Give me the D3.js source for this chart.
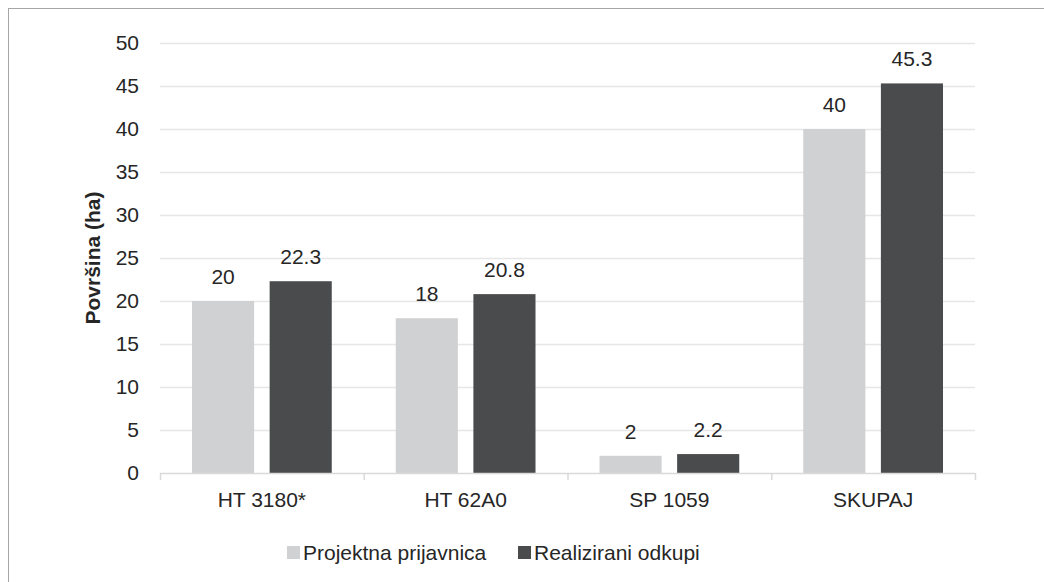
<!DOCTYPE html>
<html>
<head>
<meta charset="utf-8">
<script src="https://cdn.jsdelivr.net/npm/d3@7"></script>
<style>
  body { margin: 0; background: #fff; }
  text { font-family: 'Liberation Sans', Arial, sans-serif; fill: #262626; }
</style>
</head>
<body>
<div id="chart"></div>
<script>
const categories = ['HT 3180*', 'HT 62A0', 'SP 1059', 'SKUPAJ'];
const seriesNames = ['Projektna prijavnica', 'Realizirani odkupi'];
const projektna = [20, 18, 2, 40];
const realizirani = [22.3, 20.8, 2.2, 45.3];
const yTicks = [0, 5, 10, 15, 20, 25, 30, 35, 40, 45, 50];
const colors = ['#d0d1d3', '#4a4b4d'];

const W = 1044, H = 582;
const FS = '21px';
const margin = { top: 43, right: 69, bottom: 109, left: 160 };
const width = W - margin.left - margin.right,
  height = H - margin.top - margin.bottom;

const svg = d3.select('#chart').append('svg').attr('width', W).attr('height', H);

// outer frame
svg.append('rect')
  .attr('x', 8.5).attr('y', 8.5)
  .attr('width', W).attr('height', H)
  .attr('fill', 'none').attr('stroke', '#a6a6a6');

const g = svg.append('g').attr('transform', 'translate(' + margin.left + ',' + margin.top + ')');

const y = d3.scaleLinear().domain([0, 50]).range([height, 0]);
const x0 = d3.scaleBand().domain(categories).range([0, width]);
const x1 = d3.scaleBand().domain(seriesNames).range([32, x0.bandwidth() - 32]).paddingInner(0.2);

// gridlines
g.append('g')
  .selectAll('line')
  .data(yTicks.filter(d => d > 0))
  .enter()
  .append('line')
  .attr('x1', 0).attr('x2', width)
  .attr('y1', d => Math.round(y(d)) + 0.5).attr('y2', d => Math.round(y(d)) + 0.5)
  .attr('stroke', '#e6e6e6').attr('stroke-width', 1.5);

// y axis labels
g.append('g')
  .call(d3.axisLeft(y).tickValues(yTicks).tickSize(0).tickPadding(21))
  .call(a => a.select('.domain').remove())
  .selectAll('text')
  .style('font-size', FS)
  .style('font-family', "'Liberation Sans', Arial, sans-serif")
  .attr('fill', '#262626');

const data = categories.map((c, i) => ({ cat: c, vals: [projektna[i], realizirani[i]] }));

const groups = g.selectAll('.grp')
  .data(data)
  .enter()
  .append('g')
  .attr('transform', d => 'translate(' + x0(d.cat) + ',0)');

groups.selectAll('rect')
  .data(d => d.vals.map((v, j) => ({ key: seriesNames[j], v, j })))
  .enter()
  .append('rect')
  .attr('x', d => x1(d.key))
  .attr('width', x1.bandwidth())
  .attr('y', d => y(d.v))
  .attr('height', d => height - y(d.v))
  .attr('fill', d => colors[d.j]);

groups.selectAll('.lbl')
  .data(d => d.vals.map((v, j) => ({ key: seriesNames[j], v, j })))
  .enter()
  .append('text')
  .attr('x', d => x1(d.key) + x1.bandwidth() / 2)
  .attr('y', d => y(d.v) - 17)
  .attr('text-anchor', 'middle')
  .style('font-size', FS)
  .text(d => d.v);

// x axis baseline and ticks
const xAxis = g.append('g').attr('transform', 'translate(0,' + height + ')');
xAxis.append('line')
  .attr('x1', 0).attr('x2', width).attr('y1', 0.5).attr('y2', 0.5)
  .attr('stroke', '#d9d9d9').attr('stroke-width', 1.5);
xAxis.selectAll('.tk')
  .data(d3.range(categories.length + 1))
  .enter()
  .append('line')
  .attr('x1', i => i * x0.bandwidth() + 0.5).attr('x2', i => i * x0.bandwidth() + 0.5)
  .attr('y1', 0).attr('y2', 7)
  .attr('stroke', '#d9d9d9').attr('stroke-width', 1.5);
xAxis.selectAll('.cl')
  .data(categories)
  .enter()
  .append('text')
  .attr('x', d => x0(d) + x0.bandwidth() / 2)
  .attr('y', 34)
  .attr('text-anchor', 'middle')
  .style('font-size', FS)
  .text(d => d);

// y axis title
svg.append('text')
  .attr('transform', 'translate(100,' + (margin.top + height / 2) + ') rotate(-90)')
  .attr('text-anchor', 'middle')
  .style('font-size', FS)
  .style('font-weight', 'bold')
  .text('Površina (ha)');

// legend
const legendX = [287, 518];
const legend = svg.selectAll('.leg')
  .data(seriesNames)
  .enter()
  .append('g')
  .attr('transform', (d, i) => 'translate(' + legendX[i] + ',546)');
legend.append('rect')
  .attr('width', 13).attr('height', 13)
  .attr('fill', (d, i) => colors[i]);
legend.append('text')
  .attr('x', 16).attr('y', 14)
  .style('font-size', FS)
  .text(d => d);
</script>
</body>
</html>
